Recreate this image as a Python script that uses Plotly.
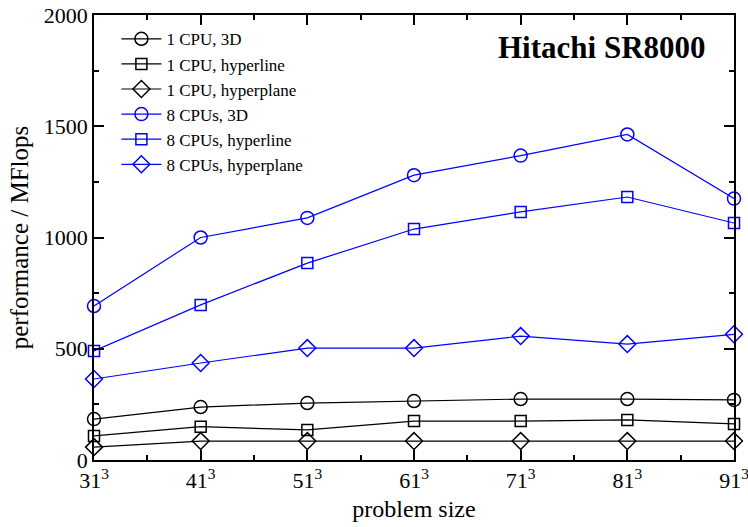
import plotly.graph_objects as go

sizes = [31, 41, 51, 61, 71, 81, 91]
tick_labels = ["31<sup>3</sup>", "41<sup>3</sup>", "51<sup>3</sup>", "61<sup>3</sup>",
               "71<sup>3</sup>", "81<sup>3</sup>", "91<sup>3</sup>"]

cpu1_3d = [184, 238, 256, 265, 274, 274, 270]
cpu1_hyperline = [108, 150, 135, 175, 175, 180, 162]
cpu1_hyperplane = [58, 85, 85, 85, 85, 85, 85]
cpu8_3d = [692, 1000, 1088, 1280, 1368, 1463, 1175]
cpu8_hyperline = [490, 697, 885, 1038, 1115, 1182, 1065]
cpu8_hyperplane = [364, 436, 503, 503, 557, 521, 565]

series = [
    ("1 CPU, 3D", cpu1_3d, "black", "circle-open", 13),
    ("1 CPU, hyperline", cpu1_hyperline, "black", "square-open", 11),
    ("1 CPU, hyperplane", cpu1_hyperplane, "black", "diamond-open", 13),
    ("8 CPUs, 3D", cpu8_3d, "#0000ff", "circle-open", 13),
    ("8 CPUs, hyperline", cpu8_hyperline, "#0000ff", "square-open", 11),
    ("8 CPUs, hyperplane", cpu8_hyperplane, "#0000ff", "diamond-open", 13),
]

fig = go.Figure()
for name, vals, color, sym, sz in series:
    fig.add_trace(go.Scatter(
        x=sizes, y=vals, name=name, mode="lines+markers",
        line=dict(color=color, width=1.2),
        marker=dict(symbol=sym, size=sz, color=color, line=dict(color=color, width=1.5)),
        cliponaxis=False,
    ))

font_family = "Liberation Serif"
axis_common = dict(
    showline=True, linecolor="black", linewidth=1.5, mirror="allticks",
    ticks="inside", ticklen=10, tickwidth=1.5, tickcolor="black",
    showgrid=False, zeroline=False, ticklabeloverflow="allow", automargin=False,
    tickfont=dict(family=font_family, size=22, color="black"),
)

fig.update_layout(
    width=748, height=527,
    margin=dict(l=94, r=14, t=15, b=67),
    paper_bgcolor="white", plot_bgcolor="white",
    font=dict(family=font_family, color="black"),
    showlegend=True,
    legend=dict(
        x=0.035, y=0.986, xanchor="left", yanchor="top",
        font=dict(family=font_family, size=17, color="black"),
        bgcolor="rgba(0,0,0,0)", tracegroupgap=0, itemwidth=40,
    ),
    xaxis=dict(
        range=[31, 91], tickmode="array", tickvals=sizes, ticktext=tick_labels,
        minor=dict(ticks="inside", ticklen=5, tickwidth=1.5, tickcolor="black", dtick=5, tick0=31),
        title=dict(text="problem size", font=dict(family=font_family, size=24), standoff=8),
        **axis_common,
    ),
    yaxis=dict(
        range=[0, 2000], dtick=500,
        minor=dict(ticks="inside", ticklen=5, tickwidth=1.5, tickcolor="black", dtick=250),
        title=dict(text="performance / MFlops", font=dict(family=font_family, size=25), standoff=8),
        **axis_common,
    ),
    annotations=[dict(
        text="<b>Hitachi SR8000</b>", xref="paper", yref="paper",
        x=0.959, y=0.926, xanchor="right", yanchor="middle", showarrow=False,
        font=dict(family=font_family, size=31, color="black"),
    )],
)

fig.write_html("out.html")
